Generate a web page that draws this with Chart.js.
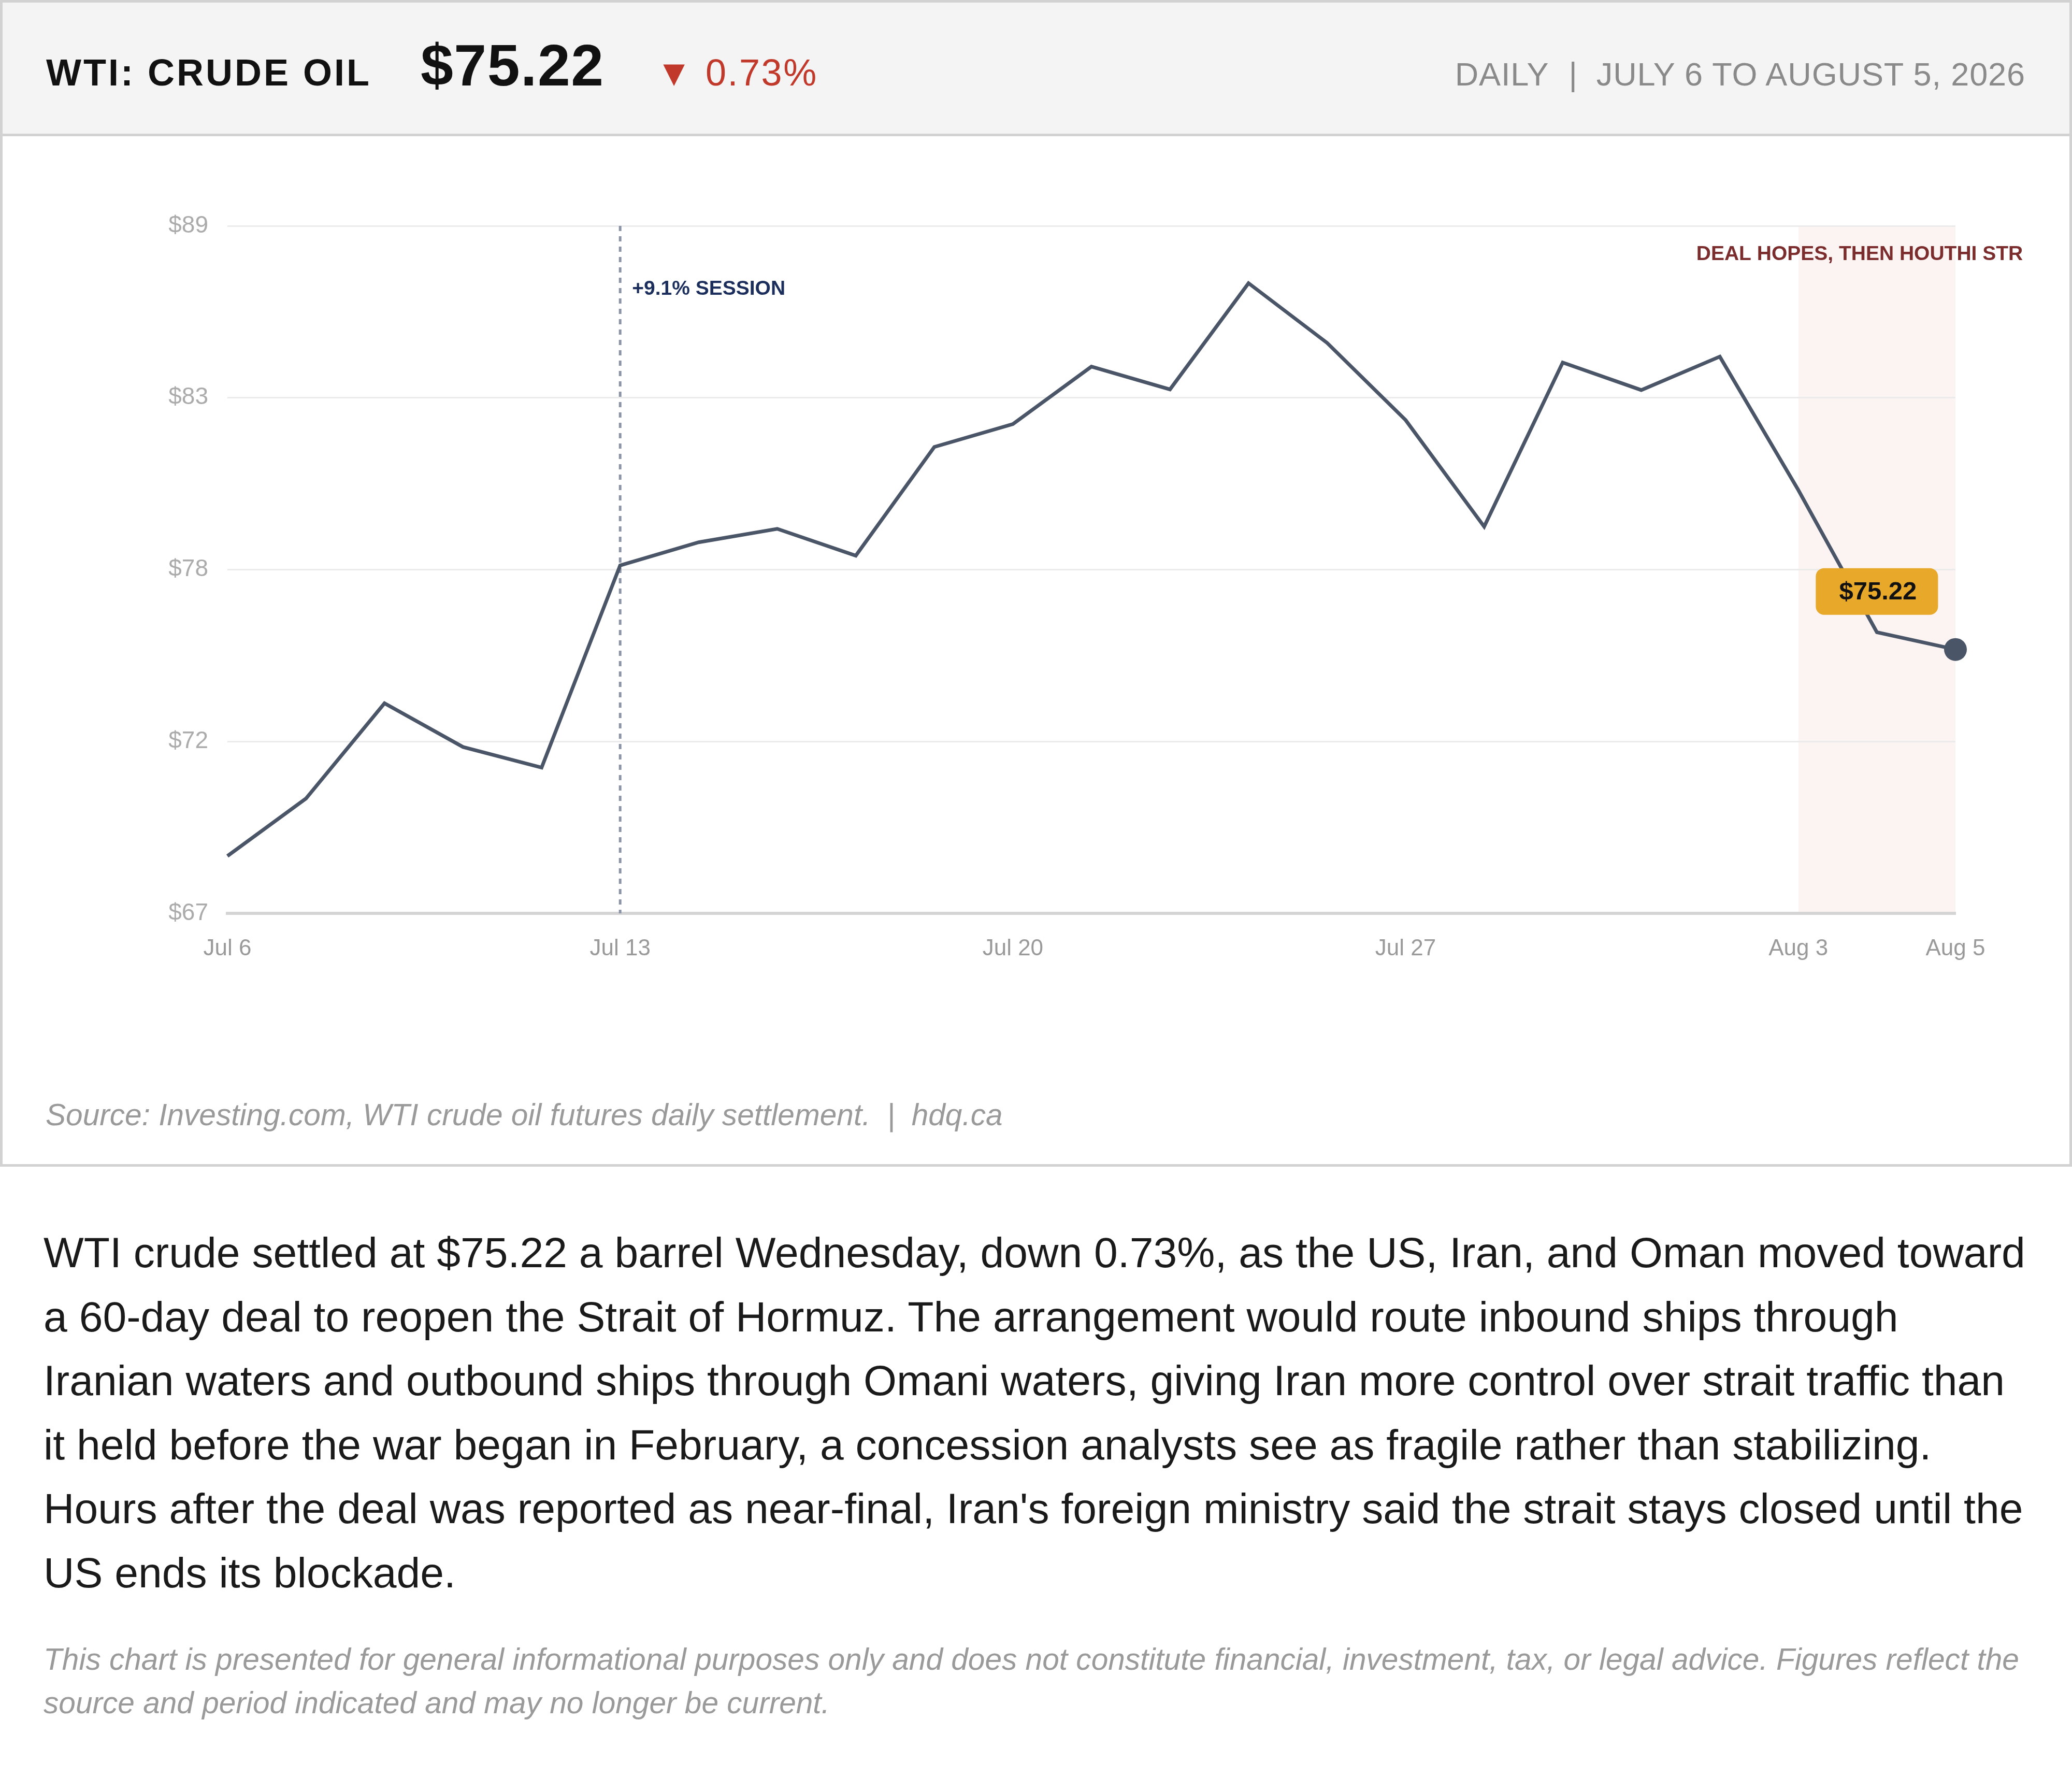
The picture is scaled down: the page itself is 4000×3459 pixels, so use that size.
<!DOCTYPE html>
<html>
<head>
<meta charset="utf-8">
<script src="https://cdn.jsdelivr.net/npm/chart.js@4.4.1/dist/chart.umd.min.js"></script>
<style>
  html, body { margin: 0; padding: 0; background: #ffffff; }
  body { width: 4000px; height: 3459px; position: relative; overflow: hidden;
         font-family: "Liberation Sans", Arial, sans-serif; }
  .card { position: absolute; left: 0; top: 0; width: 4000px; height: 2252px;
          box-sizing: border-box; border: 5px solid #d2d2d2; background: #fff; }
  .header { position: absolute; left: 0; top: 0; width: 4000px; height: 263px;
            box-sizing: border-box; background: #f4f4f4; border: 5px solid #d2d2d2; }
  .abs { position: absolute; white-space: nowrap; line-height: 1; }
  #title { left: 89px; top: 104px; font-size: 72px; font-weight: bold; color: #111; letter-spacing: 4px; }
  #price { left: 812px; top: 70px; font-size: 113px; font-weight: bold; color: #111; letter-spacing: 1.5px; }
  #tri { left: 1266px; top: 105px; font-size: 71px; color: #c0392b; }
  #pct { left: 1362px; top: 104px; font-size: 72px; color: #c0392b; letter-spacing: 2.5px; }
  #range { right: 90px; top: 112px; font-size: 63px; color: #8a8a8a; letter-spacing: 0.9px; }
  #range .sep { margin: 0 36px 0 38px; }
  #chartBox { position: absolute; left: 5px; top: 263px; width: 3905px; height: 1700px; }
  #source { left: 88px; top: 2123px; font-size: 58.6px; font-style: italic; color: #9a9a9a; }
  #source .sep { margin: 0 32px; }
  #para { position: absolute; left: 84px; top: 2356px; width: 3836px; font-size: 82.3px;
          line-height: 123.5px; color: #1a1a1a; margin: 0; }
  #disc { position: absolute; left: 84px; top: 3161px; width: 3836px; font-size: 58.6px;
          line-height: 84px; color: #9a9a9a; font-style: italic; margin: 0; }
</style>
</head>
<body>
<div class="card"></div>
<div class="header"></div>
<div class="abs" id="title">WTI: CRUDE OIL</div>
<div class="abs" id="price">$75.22</div>
<div class="abs" id="tri">▼</div>
<div class="abs" id="pct">0.73%</div>
<div class="abs" id="range"><span>DAILY</span><span class="sep">|</span><span>JULY 6 TO AUGUST 5, 2026</span></div>
<div id="chartBox"><canvas id="c"></canvas></div>
<div class="abs" id="source"><span>Source: Investing.com, WTI crude oil futures daily settlement.</span><span class="sep">|</span><span>hdq.ca</span></div>
<p id="para">WTI crude settled at $75.22 a barrel Wednesday, down 0.73%, as the US, Iran, and Oman moved toward a 60-day deal to reopen the Strait of Hormuz. The arrangement would route inbound ships through Iranian waters and outbound ships through Omani waters, giving Iran more control over strait traffic than it held before the war began in February, a concession analysts see as fragile rather than stabilizing. Hours after the deal was reported as near-final, Iran's foreign ministry said the strait stays closed until the US ends its blockade.</p>
<p id="disc">This chart is presented for general informational purposes only and does not constitute financial, investment, tax, or legal advice. Figures reflect the source and period indicated and may no longer be current.</p>

<script>
// ---- data ----
const dates = ['Jul 6','Jul 7','Jul 8','Jul 9','Jul 10','Jul 13','Jul 14','Jul 15','Jul 16','Jul 17',
               'Jul 20','Jul 21','Jul 22','Jul 23','Jul 24','Jul 27','Jul 28','Jul 29','Jul 30','Jul 31',
               'Aug 3','Aug 4','Aug 5'];
const prices = [68.61, 70.45, 73.50, 72.10, 71.44, 77.91, 78.65, 79.08, 78.22, 81.70,
                82.43, 84.27, 83.54, 86.94, 85.03, 82.56, 79.15, 84.40, 83.52, 84.59,
                80.32, 75.77, 75.22];
const xTickLabels = ['Jul 6','Jul 13','Jul 20','Jul 27','Aug 3','Aug 5'];
const yTickLabels = ['$67','$72','$78','$83','$89'];
const sessionDate = 'Jul 13';
const sessionLabel = '+9.1% SESSION';
const bandStart = 'Aug 3';
const bandEnd = 'Aug 5';
const bandLabel = 'DEAL HOPES, THEN HOUTHI STR';
const lastLabel = '$75.22';

// ---- scale range ----
const dMin = Math.min(...prices), dMax = Math.max(...prices);
const pad = (dMax - dMin) * 0.1;
const yMin = dMin - pad, yMax = dMax + pad;

const FONT = '"Liberation Sans", Arial, sans-serif';
Chart.defaults.font.family = FONT;

const annotate = {
  id: 'annotate',
  beforeDraw(chart) {
    const {ctx, chartArea: a, scales: {x}} = chart;
    const x0 = x.getPixelForValue(dates.indexOf(bandStart));
    const x1 = x.getPixelForValue(dates.indexOf(bandEnd));
    ctx.save();
    ctx.fillStyle = '#fcf4f2';
    ctx.fillRect(x0, a.top, x1 - x0, a.bottom - a.top);
    ctx.restore();
  },
  beforeDatasetsDraw(chart) {
    const {ctx, chartArea: a, scales: {x}} = chart;
    const sx = x.getPixelForValue(dates.indexOf(sessionDate));
    ctx.save();
    ctx.strokeStyle = '#8a94a6';
    ctx.lineWidth = 5;
    ctx.setLineDash([10, 10]);
    ctx.beginPath();
    ctx.moveTo(sx, a.top);
    ctx.lineTo(sx, a.bottom);
    ctx.stroke();
    ctx.restore();
  },
  afterDatasetsDraw(chart) {
    const {ctx, chartArea: a, scales: {x, y}} = chart;
    ctx.save();
    // session label
    const sx = x.getPixelForValue(dates.indexOf(sessionDate));
    ctx.font = 'bold 39px ' + FONT;
    ctx.fillStyle = '#1c2f5c';
    ctx.textAlign = 'left';
    ctx.textBaseline = 'middle';
    ctx.fillText(sessionLabel, sx + 23, a.top + 122);
    // band label
    const bx = x.getPixelForValue(dates.indexOf(bandStart));
    ctx.fillStyle = '#7b2c2c';
    ctx.fillText(bandLabel, bx - 197, a.top + 55);
    // badge
    const n = prices.length;
    const px = x.getPixelForValue(n - 2);
    const py = y.getPixelForValue(prices[n - 1]) - 112;
    const w = 236, h = 90, r = 16;
    ctx.fillStyle = '#e8a82a';
    ctx.beginPath();
    ctx.roundRect(px - w / 2, py - h / 2, w, h, r);
    ctx.fill();
    ctx.fillStyle = '#111111';
    ctx.font = 'bold 49px ' + FONT;
    ctx.textAlign = 'center';
    ctx.fillText(lastLabel, px + 2, py + 2);
    ctx.restore();
  }
};

new Chart(document.getElementById('c'), {
  type: 'line',
  data: {
    labels: dates,
    datasets: [{
      data: prices,
      borderColor: '#4a5568',
      borderWidth: 7,
      tension: 0,
      fill: false,
      clip: false,
      pointRadius: prices.map((v, i) => i === prices.length - 1 ? 22 : 0),
      pointHoverRadius: 0,
      pointBorderWidth: 0,
      pointBackgroundColor: '#4a5568'
    }]
  },
  options: {
    responsive: true,
    maintainAspectRatio: false,
    devicePixelRatio: 1,
    animation: false,
    events: [],
    layout: { padding: { top: 173, right: 135, bottom: 0, left: 0 } },
    plugins: { legend: { display: false }, tooltip: { enabled: false } },
    scales: {
      x: {
        type: 'category',
        offset: false,
        grid: { display: false, drawTicks: false },
        border: { display: true, color: '#d4d4d4', width: 6 },
        ticks: {
          autoSkip: false, maxRotation: 0, minRotation: 0, padding: 42,
          color: '#9a9a9a', font: { size: 44 },
          callback: (v, i) => xTickLabels.includes(dates[i]) ? dates[i] : ''
        },
        afterFit: (s) => { s.height = 200; }
      },
      y: {
        min: yMin, max: yMax,
        grid: { color: '#ebebeb', lineWidth: 3, drawTicks: false },
        border: { display: false },
        ticks: {
          padding: 37, color: '#ababab', font: { size: 46 },
          callback: (v, i) => yTickLabels[i]
        },
        afterBuildTicks: (s) => {
          s.ticks = yTickLabels.map((l, i) => ({ value: yMin + i * (yMax - yMin) / (yTickLabels.length - 1) }));
        },
        afterFit: (s) => { s.width = 434; }
      }
    }
  },
  plugins: [annotate]
});
</script>
</body>
</html>
